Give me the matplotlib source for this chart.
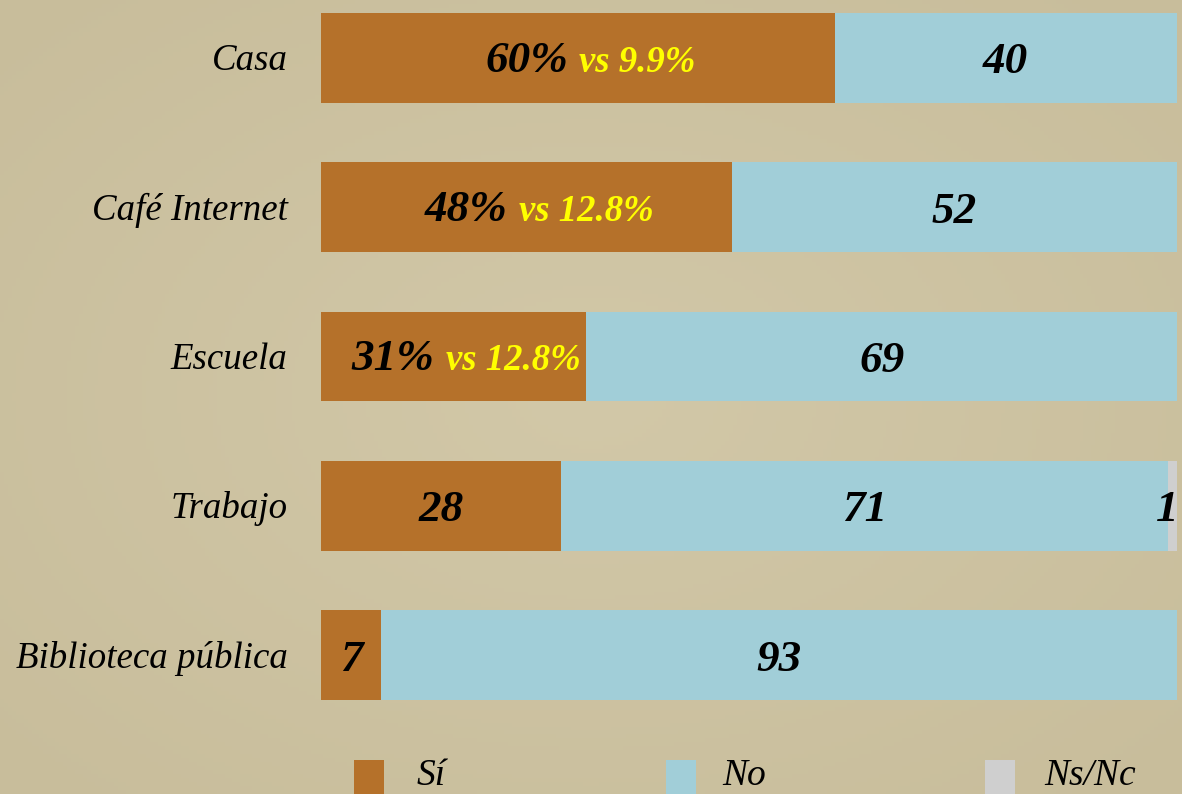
import numpy as np
import matplotlib
matplotlib.use('Agg')
import matplotlib.pyplot as plt
from matplotlib.patches import Rectangle
from matplotlib.offsetbox import TextArea, HPacker, AnnotationBbox

plt.rcParams['font.family'] = ['Liberation Serif', 'DejaVu Serif']

# data
categories = ['Casa', 'Café Internet', 'Escuela', 'Trabajo', 'Biblioteca pública']
si = [60, 48, 31, 28, 7]
no = [40, 52, 69, 71, 93]
nsnc = [0, 0, 0, 1, 0]
si_labels = ['60%', '48%', '31%', '28', '7']
vs_labels = ['vs 9.9%', 'vs 12.8%', 'vs 12.8%', '', '']
series_names = ['Sí', 'No', 'Ns/Nc']

c_si = '#b5712a'
c_no = '#a1ced8'
c_ns = '#cfcfcf'
colors = [c_si, c_no, c_ns]

W, H = 1182, 794
fig = plt.figure(figsize=(W / 100, H / 100), dpi=100)

# parchment background, very soft vignette
bg = fig.add_axes([0, 0, 1, 1], zorder=-10)
yy, xx = np.mgrid[-1:1:200j, -1:1:300j]
r = np.sqrt(xx ** 2 + yy ** 2)
base = np.array([210, 200, 168]) / 255.0
edge = np.array([200, 189, 155]) / 255.0
t = np.clip(r / 1.4, 0, 1)[..., None]
img = base * (1 - t) + edge * t
bg.imshow(img, aspect='auto', extent=[0, 1, 0, 1])
bg.set_axis_off()

ax = fig.add_axes([321 / W, (H - 700) / H, (1177 - 321) / W, (700 - 13) / H])
ax.patch.set_alpha(0)
y = np.arange(len(categories))
h = 0.6
ax.barh(y, si, height=h, color=c_si, linewidth=0)
ax.barh(y, no, left=si, height=h, color=c_no, linewidth=0)
left3 = np.array(si) + np.array(no)
ax.barh(y, nsnc, left=left3, height=h, color=c_ns, linewidth=0)
ax.set_xlim(0, 100)
ax.set_ylim(len(categories) - 1 + h / 2, -h / 2)
ax.set_axis_off()

big = dict(fontsize=32.5, fontweight='bold', fontstyle='italic', va='center')
for i, cat in enumerate(categories):
    ax.text(-3.9, i + 0.02, cat, ha='right', va='center', fontsize=26.6, fontstyle='italic')
    cx = si[i] / 2
    if vs_labels[i]:
        pack = HPacker(children=[
            TextArea(si_labels[i], textprops=dict(fontsize=32.5, fontweight='bold',
                                                  fontstyle='italic', color='black')),
            TextArea(vs_labels[i], textprops=dict(fontsize=26.5, fontweight='bold',
                                                  fontstyle='italic', color='#ffff00'))],
            sep=8, pad=0, align='baseline')
        ab = AnnotationBbox(pack, (cx, i), xybox=(9, -2), boxcoords='offset points',
                            frameon=False, box_alignment=(0.5, 0.5), pad=0)
        ax.add_artist(ab)
    else:
        ax.text(cx, i + 0.03, si_labels[i], ha='center', color='black', **big)
    ax.text(si[i] + no[i] / 2, i + 0.03, str(no[i]), ha='center', color='black', **big)
    if nsnc[i]:
        ax.text(left3[i] + nsnc[i] / 2 - 0.6, i + 0.03, str(nsnc[i]), ha='center',
                color='black', clip_on=False, **big)

# legend along the bottom edge
sq_x = [354, 666, 985]
lab_x = [417, 722, 1044]
for sx, lx, col, name in zip(sq_x, lab_x, colors, series_names):
    fig.patches.append(Rectangle((sx / W, -0.02), 30 / W, (794 - 760) / H + 0.02,
                                 transform=fig.transFigure, color=col, linewidth=0))
    fig.text(lx / W, 1 / H, name, ha='left', va='bottom', fontsize=27, fontstyle='italic')

fig.savefig('out.png', dpi=100)
